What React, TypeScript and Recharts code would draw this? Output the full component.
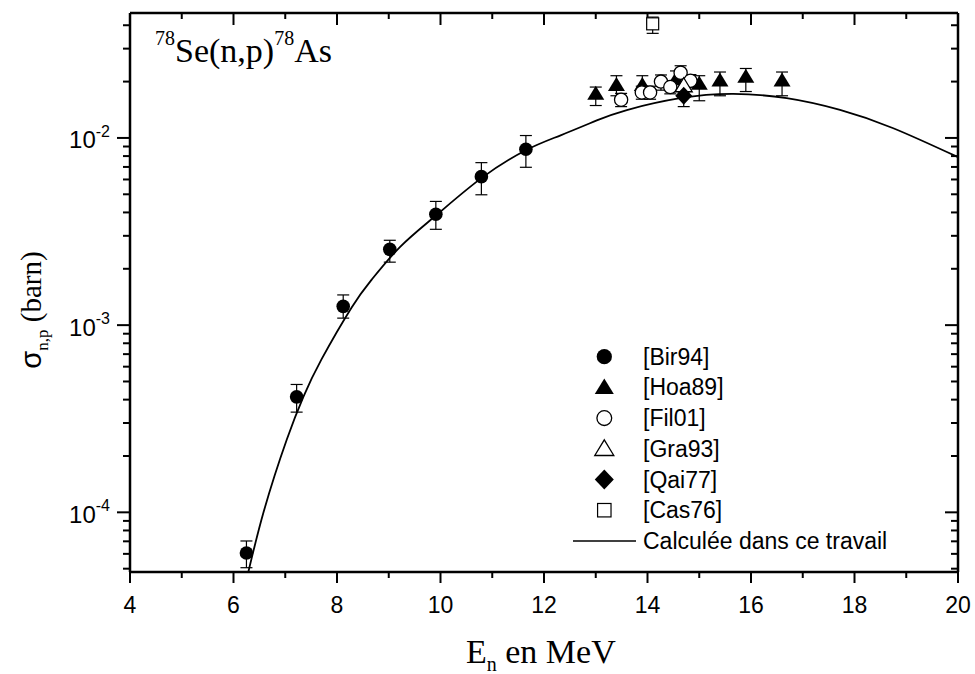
import { ComposedChart, Scatter, Line, XAxis, YAxis, ErrorBar, Legend } from "recharts";

const W = 975;
const H = 674;
const SANS = "'Liberation Sans', Arial, sans-serif";
const SERIF = "'Liberation Serif', 'Times New Roman', serif";

// [Bir94]
const bir94X = [6.25, 7.22, 8.12, 9.02, 9.91, 10.79, 11.65];
const bir94Y = [6.06e-5, 4.14e-4, 1.26e-3, 2.54e-3, 3.91e-3, 6.21e-3, 8.7e-3];
const bir94Lo = [5.06e-5, 3.43e-4, 1.09e-3, 2.17e-3, 3.25e-3, 4.97e-3, 6.97e-3];
const bir94Hi = [7.03e-5, 4.82e-4, 1.45e-3, 2.84e-3, 4.58e-3, 7.38e-3, 1.03e-2];

// [Hoa89]
const hoa89X = [13.0, 13.4, 13.9, 14.55, 15.0, 15.4, 15.9, 16.6];
const hoa89Y = [0.0172, 0.0192, 0.0192, 0.0206, 0.0195, 0.0203, 0.0212, 0.0203];
const hoa89Lo = [0.0149, 0.0168, 0.0168, 0.0185, 0.0158, 0.0168, 0.0177, 0.0168];
const hoa89Hi = [0.0187, 0.0215, 0.0215, 0.0228, 0.0215, 0.0225, 0.0235, 0.0225];

// [Fil01]
const fil01X = [13.49, 13.89, 14.05, 14.26, 14.44, 14.64, 14.83];
const fil01Y = [0.016, 0.0175, 0.0175, 0.02, 0.0187, 0.0223, 0.0202];
const fil01Lo = [0.0147, 0.0161, 0.0161, 0.018, 0.0172, 0.0205, 0.0186];
const fil01Hi = [0.0173, 0.0189, 0.0189, 0.0217, 0.0202, 0.0243, 0.0218];

// [Gra93]
const gra93X = [14.7];
const gra93Y = [0.019];
const gra93Lo = [0.0176];
const gra93Hi = [0.0205];

// [Qai77]
const qai77X = [14.7];
const qai77Y = [0.0168];
const qai77Lo = [0.0147];
const qai77Hi = [0.0189];

// [Cas76]
const cas76X = [14.1];
const cas76Y = [0.0407];
const cas76Lo = [0.0362];
const cas76Hi = [0.0442];

// model curve
const calcX = [6.2, 6.58, 7.03, 7.35, 7.7, 8.28, 8.67, 9.22, 9.91, 10.79, 11.65, 12.31, 13.02, 13.6, 14.63, 15.66, 16.69, 17.72, 18.75, 20];
const calcY = [3.8e-5, 1.0e-4, 2.45e-4, 4.14e-4, 6.56e-4, 1.24e-3, 1.75e-3, 2.62e-3, 3.85e-3, 6.1e-3, 8.6e-3, 1.03e-2, 1.24e-2, 1.41e-2, 1.63e-2, 1.718e-2, 1.63e-2, 1.411e-2, 1.127e-2, 7.9e-3];

const xDomain = [4, 20];
const xTicks = [4, 5, 6, 7, 8, 9, 10, 11, 12, 13, 14, 15, 16, 17, 18, 19, 20];
const yTicks = [
  5e-5, 6e-5, 7e-5, 8e-5, 9e-5,
  1e-4, 2e-4, 3e-4, 4e-4, 5e-4, 6e-4, 7e-4, 8e-4, 9e-4,
  1e-3, 2e-3, 3e-3, 4e-3, 5e-3, 6e-3, 7e-3, 8e-3, 9e-3,
  1e-2, 2e-2, 3e-2, 4e-2,
];
const yDomain = [4.8e-5, 0.0465];

type Kind = "disc" | "tri" | "ring" | "openTri" | "diamond" | "square" | "line";

const legendRows: { name: string; kind: Kind }[] = [
  { name: "[Bir94]", kind: "disc" },
  { name: "[Hoa89]", kind: "tri" },
  { name: "[Fil01]", kind: "ring" },
  { name: "[Gra93]", kind: "openTri" },
  { name: "[Qai77]", kind: "diamond" },
  { name: "[Cas76]", kind: "square" },
  { name: "Calculée dans ce travail", kind: "line" },
];

const withErrors = (xs: number[], ys: number[], lo: number[], hi: number[]) =>
  xs.map((x, i) => ({ x, y: ys[i], err: [ys[i] - lo[i], hi[i] - ys[i]] }));

const bir94 = withErrors(bir94X, bir94Y, bir94Lo, bir94Hi);
const hoa89 = withErrors(hoa89X, hoa89Y, hoa89Lo, hoa89Hi);
const fil01 = withErrors(fil01X, fil01Y, fil01Lo, fil01Hi);
const gra93 = withErrors(gra93X, gra93Y, gra93Lo, gra93Hi);
const qai77 = withErrors(qai77X, qai77Y, qai77Lo, qai77Hi);
const cas76 = withErrors(cas76X, cas76Y, cas76Lo, cas76Hi);
const calc = calcX.map((x, i) => ({ x, y: calcY[i] }));

// inward tick marks along the top and right edges of the frame
const topEdge = xTicks.map((x) => ({ x, y: yDomain[1] }));
const rightEdge = yTicks.map((y) => ({ x: xDomain[1], y }));

function Marker({ cx, cy, kind, s = 1 }: { cx: number; cy: number; kind: Kind; s?: number }) {
  switch (kind) {
    case "disc":
      return <circle cx={cx} cy={cy} r={6.8 * s} fill="#000" />;
    case "ring":
      return <circle cx={cx} cy={cy} r={6.6 * s} fill="#fff" stroke="#000" strokeWidth={1.3} />;
    case "tri":
    case "openTri": {
      const pts = `${cx},${cy - 8 * s} ${cx + 8.5 * s},${cy + 6 * s} ${cx - 8.5 * s},${cy + 6 * s}`;
      return kind === "tri" ? (
        <polygon points={pts} fill="#000" />
      ) : (
        <polygon points={pts} fill="#fff" stroke="#000" strokeWidth={1.3} />
      );
    }
    case "diamond":
      return (
        <polygon
          points={`${cx},${cy - 9 * s} ${cx + 8.5 * s},${cy} ${cx},${cy + 9 * s} ${cx - 8.5 * s},${cy}`}
          fill="#000"
        />
      );
    case "square":
      return (
        <rect x={cx - 6 * s} y={cy - 6 * s} width={12 * s} height={12 * s} fill="#fff" stroke="#000" strokeWidth={1.2} />
      );
    default:
      return null;
  }
}

const shapeOf = (kind: Kind) => (p: any) => <Marker cx={p.cx} cy={p.cy} kind={kind} />;

const isDecade = (v: number) => Math.abs(Math.log10(v) - Math.round(Math.log10(v))) < 1e-6;

const topTickShape = (p: any) => {
  const major = p.payload.x % 2 === 0;
  return <line x1={p.cx} y1={p.cy} x2={p.cx} y2={p.cy + (major ? 12 : 6)} stroke="#000" strokeWidth={2} />;
};

const rightTickShape = (p: any) => {
  const major = isDecade(p.payload.y);
  return <line x1={p.cx} y1={p.cy} x2={p.cx - (major ? 13 : 7)} y2={p.cy} stroke="#000" strokeWidth={2} />;
};

function BottomTick(props: any) {
  const { x, y, payload } = props;
  const major = payload.value % 2 === 0;
  return (
    <g>
      <line x1={x} y1={y} x2={x} y2={y + (major ? 11 : 6)} stroke="#000" strokeWidth={2} />
      {major && (
        <text x={x} y={y + 33} textAnchor="middle" dominantBaseline="central" fontFamily={SANS} fontSize={23} fill="#000">
          {payload.value}
        </text>
      )}
    </g>
  );
}

function LeftTick(props: any) {
  const { x, y, payload } = props;
  const major = isDecade(payload.value);
  const exp = Math.round(Math.log10(payload.value));
  return (
    <g>
      <line x1={x} y1={y} x2={x - (major ? 13 : 7)} y2={y} stroke="#000" strokeWidth={2} />
      {major && (
        <text x={x - 20} y={y + 2} textAnchor="end" dominantBaseline="central" fontFamily={SANS} fontSize={24} fill="#000">
          10
          <tspan dy={-9} fontSize={16}>
            {exp}
          </tspan>
        </text>
      )}
    </g>
  );
}

function XTitle() {
  return (
    <text x={466} y={663} fontFamily={SERIF} fontSize={34} fill="#000">
      E
      <tspan dy={8} fontSize={20}>n</tspan>
      <tspan dy={-8}> en MeV</tspan>
    </text>
  );
}

function YTitle() {
  return (
    <text transform="translate(41, 310) rotate(-90)" textAnchor="middle" fontFamily={SERIF} fontSize={29} fill="#000">
      <tspan fontFamily={SANS}>σ</tspan>
      <tspan dy={7} fontSize={17}>n,p</tspan>
      <tspan dy={-7}> (barn)</tspan>
    </text>
  );
}

function Reaction() {
  return (
    <text x={155} y={62} fontFamily={SERIF} fontSize={34} fill="#000">
      <tspan dy={-17} fontSize={20}>78</tspan>
      <tspan dy={17}>Se(n,p)</tspan>
      <tspan dy={-17} fontSize={20}>78</tspan>
      <tspan dy={17}>As</tspan>
    </text>
  );
}

function LegendBox() {
  return (
    <svg width={400} height={220} style={{ display: "block" }}>
      {legendRows.map((row, i) => {
        const y = 18.7 + i * 30.7;
        return (
          <g key={row.name}>
            {row.kind === "line" ? (
              <line x1={13} y1={y} x2={76} y2={y} stroke="#000" strokeWidth={1.5} />
            ) : (
              <Marker cx={44.3} cy={y} kind={row.kind} s={1.12} />
            )}
            <text x={83} y={y} dominantBaseline="central" fontFamily={SANS} fontSize={23} fill="#000">
              {row.name}
            </text>
          </g>
        );
      })}
    </svg>
  );
}

const axisLine = { stroke: "#000", strokeWidth: 2.5 };

export default function App() {
  return (
    <div style={{ position: "absolute", left: 0, top: 0, width: W, height: H, background: "#fff" }}>
      <ComposedChart width={W} height={H} margin={{ top: 12, right: 16, bottom: 42, left: 50 }}>
        <XAxis
          type="number"
          dataKey="x"
          domain={xDomain}
          ticks={xTicks}
          interval={0}
          allowDataOverflow
          height={60}
          tickSize={0}
          tickMargin={0}
          tickLine={false}
          axisLine={axisLine}
          tick={BottomTick}
          label={<XTitle />}
        />
        <XAxis
          xAxisId="top"
          orientation="top"
          type="number"
          dataKey="x"
          domain={xDomain}
          allowDataOverflow
          height={1}
          tick={false}
          tickLine={false}
          axisLine={axisLine}
          label={<Reaction />}
        />
        <YAxis
          type="number"
          dataKey="y"
          scale="log"
          domain={yDomain}
          ticks={yTicks}
          interval={0}
          allowDataOverflow
          width={80}
          tickSize={0}
          tickMargin={0}
          tickLine={false}
          axisLine={axisLine}
          tick={LeftTick}
          label={<YTitle />}
        />
        <YAxis
          yAxisId="right"
          orientation="right"
          type="number"
          dataKey="y"
          scale="log"
          domain={yDomain}
          allowDataOverflow
          width={1}
          tick={false}
          tickLine={false}
          axisLine={axisLine}
        />
        <Scatter data={topEdge} dataKey="y" shape={topTickShape} legendType="none" isAnimationActive={false} />
        <Scatter data={rightEdge} dataKey="y" shape={rightTickShape} legendType="none" isAnimationActive={false} />
        {/* the model curve lives on the top/right axes (same scales as bottom/left) */}
        <Line
          xAxisId="top"
          yAxisId="right"
          data={calc}
          dataKey="y"
          type="natural"
          stroke="#000"
          strokeWidth={1.8}
          dot={false}
          activeDot={false}
          legendType="none"
          isAnimationActive={false}
        />
        <Scatter name="[Hoa89]" data={hoa89} dataKey="y" shape={shapeOf("tri")} isAnimationActive={false}>
          <ErrorBar dataKey="err" direction="y" width={6} stroke="#000" strokeWidth={1.2} isAnimationActive={false} />
        </Scatter>
        <Scatter name="[Fil01]" data={fil01} dataKey="y" shape={shapeOf("ring")} isAnimationActive={false}>
          <ErrorBar dataKey="err" direction="y" width={6} stroke="#000" strokeWidth={1.2} isAnimationActive={false} />
        </Scatter>
        <Scatter name="[Gra93]" data={gra93} dataKey="y" shape={shapeOf("openTri")} isAnimationActive={false}>
          <ErrorBar dataKey="err" direction="y" width={6} stroke="#000" strokeWidth={1.2} isAnimationActive={false} />
        </Scatter>
        <Scatter name="[Qai77]" data={qai77} dataKey="y" shape={shapeOf("diamond")} isAnimationActive={false}>
          <ErrorBar dataKey="err" direction="y" width={6} stroke="#000" strokeWidth={1.2} isAnimationActive={false} />
        </Scatter>
        <Scatter name="[Bir94]" data={bir94} dataKey="y" shape={shapeOf("disc")} isAnimationActive={false}>
          <ErrorBar dataKey="err" direction="y" width={6} stroke="#000" strokeWidth={1.2} isAnimationActive={false} />
        </Scatter>
        <Scatter name="[Cas76]" data={cas76} dataKey="y" shape={shapeOf("square")} isAnimationActive={false}>
          <ErrorBar dataKey="err" direction="y" width={6} stroke="#000" strokeWidth={1.2} isAnimationActive={false} />
        </Scatter>
        <Legend
          layout="vertical"
          align="center"
          verticalAlign="middle"
          wrapperStyle={{ left: 560, top: 338, width: 400, height: 220 }}
          content={() => <LegendBox />}
        />
      </ComposedChart>
    </div>
  );
}
